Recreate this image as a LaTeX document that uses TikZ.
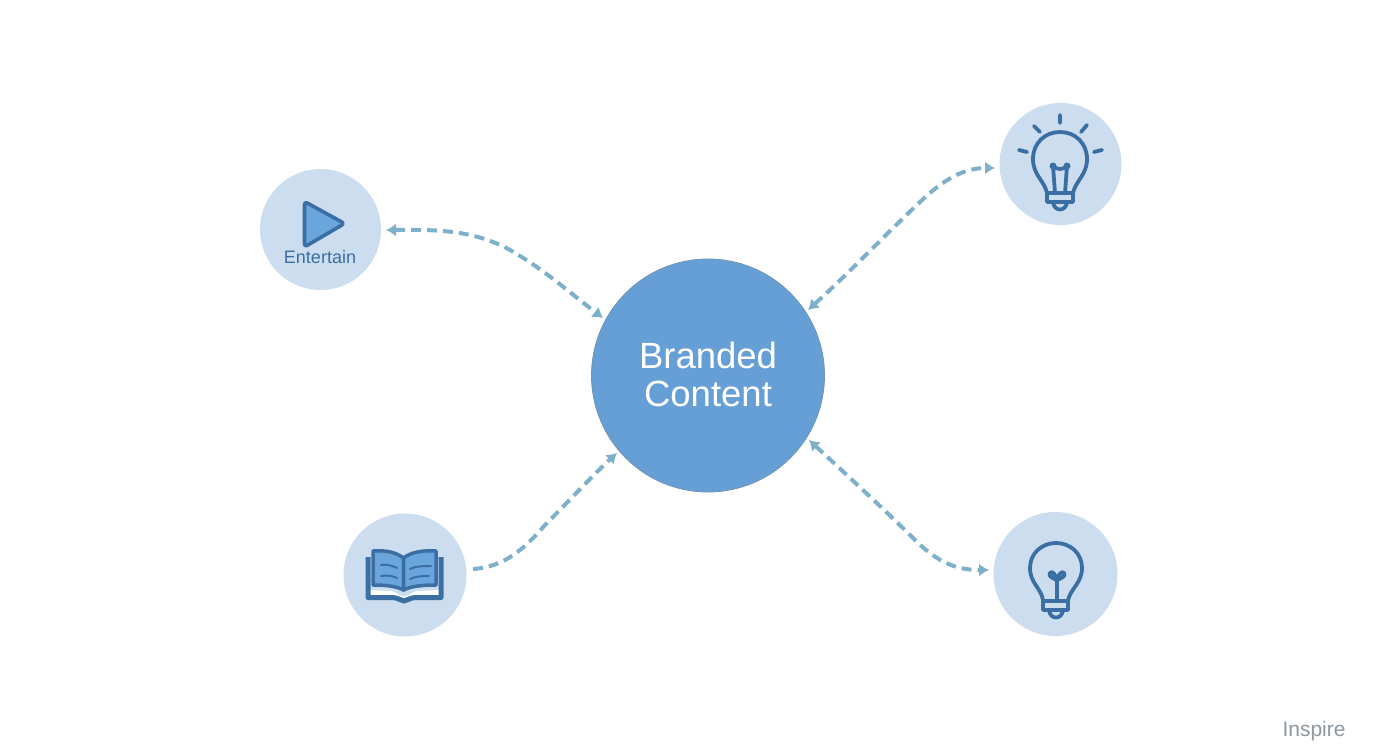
\documentclass[tikz,border=0pt]{standalone}
\usepackage{fontspec}
\setmainfont{Liberation Sans}
\usetikzlibrary{arrows.meta}
\definecolor{hub}{HTML}{669FD6}
\definecolor{hubline}{HTML}{6F94B0}
\definecolor{disc}{HTML}{CBDDEE}
\definecolor{link}{HTML}{7FB0CB}
\definecolor{ink}{HTML}{3B6FA3}
\definecolor{pagefill}{HTML}{6AA5DC}
\definecolor{gray1}{HTML}{8E979E}
\tikzset{
  hubnode/.style={circle,fill=hub,draw=hubline,line width=0.8pt,minimum size=233pt,inner sep=0pt},
  hubtext/.style={text=white,font=\fontsize{36.5}{38}\selectfont,align=center,inner sep=0pt},
  discnode/.style={circle,fill=disc,minimum size=121pt,inner sep=0pt},
  linkline/.style={draw=link,line width=4pt,dash pattern=on 10pt off 6pt},
  linkone/.style={linkline,-{Latex[length=10pt,width=13pt]}},
  linktwo/.style={linkline,{Latex[length=10pt,width=13pt]}-{Latex[length=10pt,width=13pt]}},
  iconline/.style={draw=ink,line width=3.8pt,line cap=round,line join=round},
  thinline/.style={draw=ink,line width=2pt,line cap=round},
}
\begin{document}
\begin{tikzpicture}[x=1pt,y=-1pt]
\useasboundingbox (0,0) rectangle (1392,752);
\fill[white] (0,0) rectangle (1392,752);
\node[hubnode] (hub) at (708,375.5) {};
\node[hubtext] (hubt) at (708,374) {Branded\\Content};
\node[discnode] (ent) at (320.5,229.5) {};
\node[discnode,minimum size=122pt] (idea) at (1060.5,164) {};
\node[discnode,minimum size=123pt] (book) at (405,575) {};
\node[discnode,minimum size=124pt] (bulb) at (1055.5,574) {};
\node[text=gray1,font=\fontsize{21}{23}\selectfont] (insp) at (1314,731) {Inspire};
% connector ends
\coordinate (e1) at (386,230); \coordinate (e2) at (603,318);
\coordinate (i1) at (808,310); \coordinate (i2) at (995,168);
\coordinate (b1) at (473,569); \coordinate (b2) at (617,453);
\coordinate (u1) at (809,440); \coordinate (u2) at (989,570);
\draw[linktwo] (e1) .. controls (430,230) and (470,228) .. (510,250) .. controls (545,270) and (570,293) .. (e2);
\draw[linktwo] (i1) .. controls (850,272) and (885,235) .. (920,202) .. controls (945,178) and (965,168) .. (i2);
\draw[linkone] (b1) .. controls (505,567) and (525,548) .. (545,525) .. controls (570,500) and (595,473) .. (b2);
\draw[linktwo] (u1) .. controls (850,478) and (885,510) .. (915,540) .. controls (940,565) and (960,570) .. (u2);
% play icon
\draw[iconline,line width=3.6pt,fill=pagefill,rounded corners=3pt] (304.5,201.5) -- (344.5,223.5) -- (304.5,247) -- cycle;
\node[text=ink,font=\fontsize{18}{20}\selectfont] (enttext) at (320,257.5) {Entertain};
% top bulb
\draw[iconline] (1047,193) .. controls (1044,180) and (1033,175) .. (1033,159) .. controls (1033,143) and (1045,132) .. (1060,132) .. controls (1075,132) and (1087,143) .. (1087,159) .. controls (1087,175) and (1076,180) .. (1073,193);
\draw[iconline] (1047,193) -- (1073,193) -- (1073,202) -- (1047,202) -- cycle;
\draw[draw=disc,line width=1.8pt] (1049,197.5) -- (1071,197.5);
\draw[iconline] (1053,202) .. controls (1054,212) and (1066,212) .. (1067,202);
\draw[iconline] (1055,193) -- (1053,166) (1065,193) -- (1067,166) (1053,166) .. controls (1057,170) and (1063,170) .. (1067,166);
\fill[ink] (1053,166) circle (3.5pt) (1067,166) circle (3.5pt);
\draw[iconline] (1060,115) -- (1060,123) (1034,126) -- (1040,132) (1087,125) -- (1081,132) (1019,150) -- (1027,152) (1094,152) -- (1102,150);
% bottom bulb
\draw[iconline] (1043,600) .. controls (1041,588) and (1030,583) .. (1030,568) .. controls (1030,553) and (1042,543) .. (1056,543) .. controls (1070,543) and (1082,553) .. (1082,568) .. controls (1082,583) and (1071,588) .. (1068,600);
\draw[iconline] (1043,601) -- (1068,601) -- (1068,610) -- (1043,610) -- cycle;
\draw[draw=disc,line width=1.8pt] (1045,605.5) -- (1066,605.5);
\draw[iconline] (1049,610) .. controls (1050,620) and (1062,620) .. (1063,610);
\draw[iconline] (1057,601) -- (1057,580) .. controls (1052,578) and (1048,576) .. (1050,573) .. controls (1052,570) and (1056,575) .. (1057,580) .. controls (1058,575) and (1062,570) .. (1064,573) .. controls (1066,576) and (1062,578) .. (1057,580);
% book
\fill[white] (368,590) -- (392,591) -- (404,597) -- (416,591) -- (441,590) -- (441,597) -- (416,597) -- (404,601) -- (392,597) -- (368,597) -- cycle;
\draw[draw=ink,line width=5pt,line join=round,line cap=butt] (368,557) -- (368,597.5) -- (392,597.5) .. controls (397,597.5) and (400,600) .. (404,601) .. controls (408,600) and (411,597.5) .. (416,597.5) -- (441,597.5) -- (441,557);
\draw[draw=ink,fill=pagefill,line width=3.5pt,line join=round] (373,551) .. controls (385,550) and (396,552) .. (403.5,558) -- (403.5,590) .. controls (396,586) and (385,585) .. (373,585) -- cycle;
\draw[draw=ink,fill=pagefill,line width=3.5pt,line join=round] (436,551) .. controls (424,550) and (411,552) .. (403.5,558) -- (403.5,590) .. controls (411,586) and (424,585) .. (436,585) -- cycle;
\draw[thinline] (381,565) .. controls (387,564) and (393,566) .. (397,568) (381,576) .. controls (387,575) and (393,576) .. (397,578);
\draw[thinline] (410,569) .. controls (416,566) and (423,566) .. (431,566) (410,579) .. controls (416,576) and (423,576) .. (429,576);
\end{tikzpicture}
\end{document}
